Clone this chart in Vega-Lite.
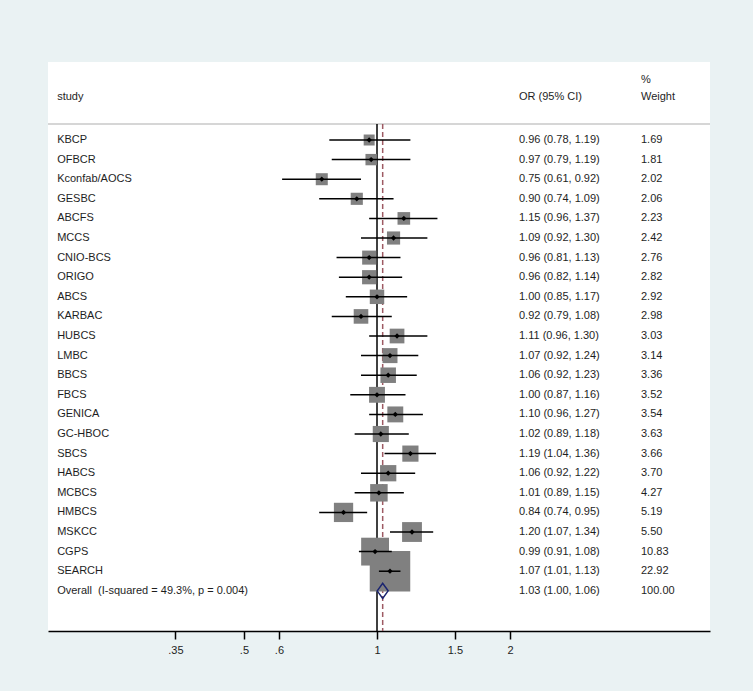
{
  "$schema": "https://vega.github.io/schema/vega-lite/v6.json",
  "width": 662,
  "height": 569,
  "autosize": {"type": "none"},
  "padding": {"left": 48, "top": 62, "right": 43, "bottom": 60},
  "background": "#EAF2F3",
  "config": {
    "view": {"stroke": null, "fill": "white"},
    "font": "Liberation Sans",
    "text": {"font": "Liberation Sans", "fontSize": 11, "color": "#1e1e1e"}
  },
  "datasets": {
    "studies": [
      {"row": 1, "study": "KBCP", "or": 0.96, "lo": 0.78, "hi": 1.19, "w": 1.69, "ci": "0.96 (0.78, 1.19)", "wt": "1.69"},
      {"row": 2, "study": "OFBCR", "or": 0.97, "lo": 0.79, "hi": 1.19, "w": 1.81, "ci": "0.97 (0.79, 1.19)", "wt": "1.81"},
      {"row": 3, "study": "Kconfab/AOCS", "or": 0.75, "lo": 0.61, "hi": 0.92, "w": 2.02, "ci": "0.75 (0.61, 0.92)", "wt": "2.02"},
      {"row": 4, "study": "GESBC", "or": 0.90, "lo": 0.74, "hi": 1.09, "w": 2.06, "ci": "0.90 (0.74, 1.09)", "wt": "2.06"},
      {"row": 5, "study": "ABCFS", "or": 1.15, "lo": 0.96, "hi": 1.37, "w": 2.23, "ci": "1.15 (0.96, 1.37)", "wt": "2.23"},
      {"row": 6, "study": "MCCS", "or": 1.09, "lo": 0.92, "hi": 1.30, "w": 2.42, "ci": "1.09 (0.92, 1.30)", "wt": "2.42"},
      {"row": 7, "study": "CNIO-BCS", "or": 0.96, "lo": 0.81, "hi": 1.13, "w": 2.76, "ci": "0.96 (0.81, 1.13)", "wt": "2.76"},
      {"row": 8, "study": "ORIGO", "or": 0.96, "lo": 0.82, "hi": 1.14, "w": 2.82, "ci": "0.96 (0.82, 1.14)", "wt": "2.82"},
      {"row": 9, "study": "ABCS", "or": 1.00, "lo": 0.85, "hi": 1.17, "w": 2.92, "ci": "1.00 (0.85, 1.17)", "wt": "2.92"},
      {"row": 10, "study": "KARBAC", "or": 0.92, "lo": 0.79, "hi": 1.08, "w": 2.98, "ci": "0.92 (0.79, 1.08)", "wt": "2.98"},
      {"row": 11, "study": "HUBCS", "or": 1.11, "lo": 0.96, "hi": 1.30, "w": 3.03, "ci": "1.11 (0.96, 1.30)", "wt": "3.03"},
      {"row": 12, "study": "LMBC", "or": 1.07, "lo": 0.92, "hi": 1.24, "w": 3.14, "ci": "1.07 (0.92, 1.24)", "wt": "3.14"},
      {"row": 13, "study": "BBCS", "or": 1.06, "lo": 0.92, "hi": 1.23, "w": 3.36, "ci": "1.06 (0.92, 1.23)", "wt": "3.36"},
      {"row": 14, "study": "FBCS", "or": 1.00, "lo": 0.87, "hi": 1.16, "w": 3.52, "ci": "1.00 (0.87, 1.16)", "wt": "3.52"},
      {"row": 15, "study": "GENICA", "or": 1.10, "lo": 0.96, "hi": 1.27, "w": 3.54, "ci": "1.10 (0.96, 1.27)", "wt": "3.54"},
      {"row": 16, "study": "GC-HBOC", "or": 1.02, "lo": 0.89, "hi": 1.18, "w": 3.63, "ci": "1.02 (0.89, 1.18)", "wt": "3.63"},
      {"row": 17, "study": "SBCS", "or": 1.19, "lo": 1.04, "hi": 1.36, "w": 3.66, "ci": "1.19 (1.04, 1.36)", "wt": "3.66"},
      {"row": 18, "study": "HABCS", "or": 1.06, "lo": 0.92, "hi": 1.22, "w": 3.70, "ci": "1.06 (0.92, 1.22)", "wt": "3.70"},
      {"row": 19, "study": "MCBCS", "or": 1.01, "lo": 0.89, "hi": 1.15, "w": 4.27, "ci": "1.01 (0.89, 1.15)", "wt": "4.27"},
      {"row": 20, "study": "HMBCS", "or": 0.84, "lo": 0.74, "hi": 0.95, "w": 5.19, "ci": "0.84 (0.74, 0.95)", "wt": "5.19"},
      {"row": 21, "study": "MSKCC", "or": 1.20, "lo": 1.07, "hi": 1.34, "w": 5.50, "ci": "1.20 (1.07, 1.34)", "wt": "5.50"},
      {"row": 22, "study": "CGPS", "or": 0.99, "lo": 0.91, "hi": 1.08, "w": 10.83, "ci": "0.99 (0.91, 1.08)", "wt": "10.83"},
      {"row": 23, "study": "SEARCH", "or": 1.07, "lo": 1.01, "hi": 1.13, "w": 22.92, "ci": "1.07 (1.01, 1.13)", "wt": "22.92"},
      {"row": 24, "study": "Overall\u00a0 (I-squared = 49.3%, p = 0.004)", "or": 1.03, "lo": 1.00, "hi": 1.06, "w": 100.0, "ci": "1.03 (1.00, 1.06)", "wt": "100.00", "overall": true}
    ],
    "one": [{"k": 1}]
  },
  "layer": [
    {
      "data": {"name": "one"},
      "mark": {"type": "rule", "color": "#C8C8C8", "strokeWidth": 1.5},
      "encoding": {
        "y": {"datum": 0.18, "type": "quantitative", "scale": {"domain": [-2.98, 26.05], "reverse": true, "nice": false, "zero": false}, "axis": null}
      }
    },
    {
      "data": {"name": "one"},
      "mark": {"type": "rule", "color": "#000000", "strokeWidth": 1.5},
      "encoding": {
        "x": {"datum": 1, "type": "quantitative"},
        "y": {"datum": 0.18, "type": "quantitative"},
        "y2": {"datum": 26.05}
      }
    },
    {
      "data": {"name": "one"},
      "mark": {"type": "rule", "color": "#9E5A63", "strokeWidth": 1.5, "strokeDash": [5, 3]},
      "encoding": {
        "x": {"datum": 1.03, "type": "quantitative"},
        "y": {"datum": 0.18, "type": "quantitative"},
        "y2": {"datum": 26.05}
      }
    },
    {
      "data": {"name": "studies"},
      "transform": [{"filter": "!datum.overall"}],
      "mark": {"type": "square", "filled": true, "color": "#808080", "opacity": 1},
      "encoding": {
        "x": {
          "field": "or", "type": "quantitative",
          "scale": {"type": "log", "domain": [0.1802, 5.666], "nice": false},
          "axis": {
            "title": null,
            "values": [0.35, 0.5, 0.6, 1, 1.5, 2],
            "labelExpr": "datum.value < 1 ? substring(format(datum.value, '.2~f'), 1) : format(datum.value, '~g')",
            "grid": false,
            "domainColor": "#000000", "domainWidth": 1.5,
            "tickColor": "#000000", "tickWidth": 1.5, "tickSize": 8,
            "labelFont": "Liberation Sans", "labelFontSize": 11, "labelColor": "#1e1e1e", "labelPadding": 5
          }
        },
        "y": {"field": "row", "type": "quantitative"},
        "size": {"field": "w", "type": "quantitative", "scale": {"domain": [0, 22.92], "range": [0, 1641], "zero": true}, "legend": null}
      }
    },
    {
      "data": {"name": "studies"},
      "transform": [{"filter": "!datum.overall"}],
      "mark": {"type": "rule", "color": "#000000", "strokeWidth": 1.5},
      "encoding": {
        "x": {"field": "lo", "type": "quantitative"},
        "x2": {"field": "hi"},
        "y": {"field": "row", "type": "quantitative"}
      }
    },
    {
      "data": {"name": "studies"},
      "transform": [{"filter": "!datum.overall"}],
      "mark": {"type": "point", "shape": "diamond", "filled": true, "color": "#000000", "size": 28, "opacity": 1},
      "encoding": {
        "x": {"field": "or", "type": "quantitative"},
        "y": {"field": "row", "type": "quantitative"}
      }
    },
    {
      "data": {"name": "studies"},
      "transform": [{"filter": "datum.overall"}],
      "mark": {"type": "point", "shape": "M-0.72,0L0,-1L0.72,0L0,1Z", "filled": false, "stroke": "#1A2470", "strokeWidth": 1.5, "size": 230, "opacity": 1},
      "encoding": {
        "x": {"field": "or", "type": "quantitative"},
        "y": {"field": "row", "type": "quantitative"}
      }
    },
    {
      "data": {"name": "studies"},
      "mark": {"type": "text", "align": "left", "baseline": "middle"},
      "encoding": {"x": {"datum": 0.189, "type": "quantitative"}, "y": {"field": "row", "type": "quantitative"}, "text": {"field": "study"}}
    },
    {
      "data": {"name": "studies"},
      "mark": {"type": "text", "align": "left", "baseline": "middle"},
      "encoding": {"x": {"datum": 2.095, "type": "quantitative"}, "y": {"field": "row", "type": "quantitative"}, "text": {"field": "ci"}}
    },
    {
      "data": {"name": "studies"},
      "mark": {"type": "text", "align": "left", "baseline": "middle"},
      "encoding": {"x": {"datum": 3.955, "type": "quantitative"}, "y": {"field": "row", "type": "quantitative"}, "text": {"field": "wt"}}
    },
    {
      "data": {"name": "one"},
      "mark": {"type": "text", "align": "left", "baseline": "middle"},
      "encoding": {"x": {"datum": 0.189, "type": "quantitative"}, "y": {"datum": -1.19, "type": "quantitative"}, "text": {"value": "study"}}
    },
    {
      "data": {"name": "one"},
      "mark": {"type": "text", "align": "left", "baseline": "middle"},
      "encoding": {"x": {"datum": 2.095, "type": "quantitative"}, "y": {"datum": -1.19, "type": "quantitative"}, "text": {"value": "OR (95% CI)"}}
    },
    {
      "data": {"name": "one"},
      "mark": {"type": "text", "align": "left", "baseline": "middle"},
      "encoding": {"x": {"datum": 3.955, "type": "quantitative"}, "y": {"datum": -1.19, "type": "quantitative"}, "text": {"value": "Weight"}}
    },
    {
      "data": {"name": "one"},
      "mark": {"type": "text", "align": "left", "baseline": "middle"},
      "encoding": {"x": {"datum": 3.955, "type": "quantitative"}, "y": {"datum": -2.06, "type": "quantitative"}, "text": {"value": "%"}}
    }
  ]
}
